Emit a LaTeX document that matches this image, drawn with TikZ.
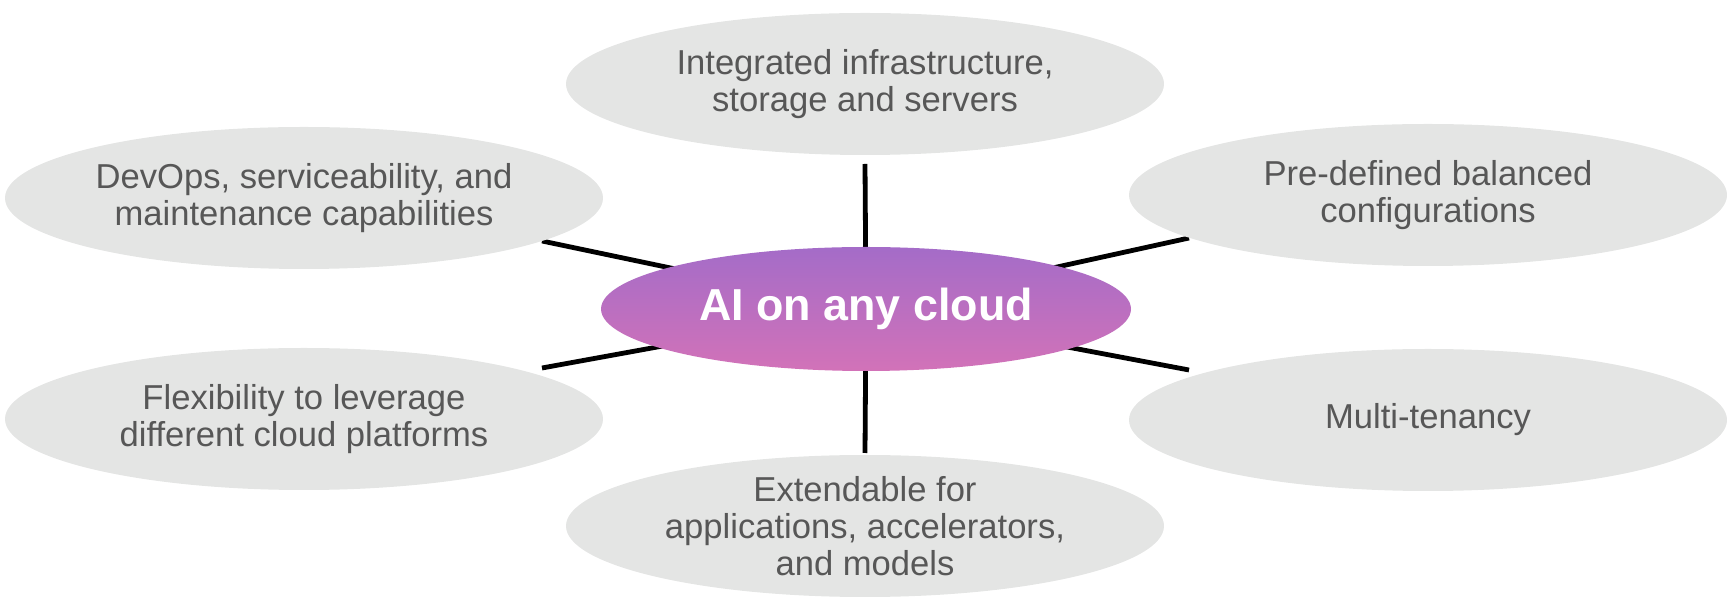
\documentclass[tikz,border=0pt]{standalone}
\usepackage{fontspec}
\setmainfont{Liberation Sans}
\usetikzlibrary{shapes.geometric}
\definecolor{bubblefill}{HTML}{E4E5E4}
\definecolor{bubbletext}{HTML}{575757}
\definecolor{ctop}{RGB}{164,108,200}
\definecolor{cmid}{RGB}{182,112,194}
\definecolor{cbot}{RGB}{210,114,184}
\pgfdeclarelayer{bg}
\pgfsetlayers{bg,main}
\begin{document}
\begin{tikzpicture}[x=0.5pt,y=-0.5pt,
  bubble/.style={ellipse, fill=bubblefill, draw=none, minimum width=299pt, minimum height=71pt,
    inner sep=0pt, align=center, text=bubbletext,
    font=\fontsize{17.3}{18.5}\selectfont},
  hub/.style={ellipse, draw=none, top color=ctop, middle color=cmid, bottom color=cbot, minimum width=265pt,
    minimum height=62pt, inner sep=0pt, text=white, font=\fontsize{22.4}{26}\selectfont\bfseries},
  spoke/.style={line width=2.4pt, black}]
\useasboundingbox (0,0) rectangle (1734,613);

\node[bubble] (top) at (865,84) {Integrated infrastructure,\\storage and servers};
\node[bubble] (tl) at (304,198) {DevOps, serviceability, and\\maintenance capabilities};
\node[bubble] (tr) at (1428,195) {Pre-defined balanced\\configurations};
\node[bubble] (bl) at (304,419) {Flexibility to leverage\\different cloud platforms};
\node[bubble] (br) at (1428,420) {Multi-tenancy};
\node[bubble] (bot) at (865,526) {Extendable for\\applications, accelerators,\\and models};
\node[hub] (c) at (866,309) {AI on any cloud};

\coordinate (eT) at (865,164);
\coordinate (eB) at (865,453);
\coordinate (eTL) at (542,241);
\coordinate (eTR) at (1189,238);
\coordinate (eBL) at (542,368);
\coordinate (eBR) at (1189,370);

\begin{pgfonlayer}{bg}
\draw[spoke] (c.center) -- (eT);
\draw[spoke] (c.center) -- (eB);
\draw[spoke] (c.center) -- (eTL);
\draw[spoke] (c.center) -- (eTR);
\draw[spoke] (c.center) -- (eBL);
\draw[spoke] (c.center) -- (eBR);
\end{pgfonlayer}
\end{tikzpicture}
\end{document}
